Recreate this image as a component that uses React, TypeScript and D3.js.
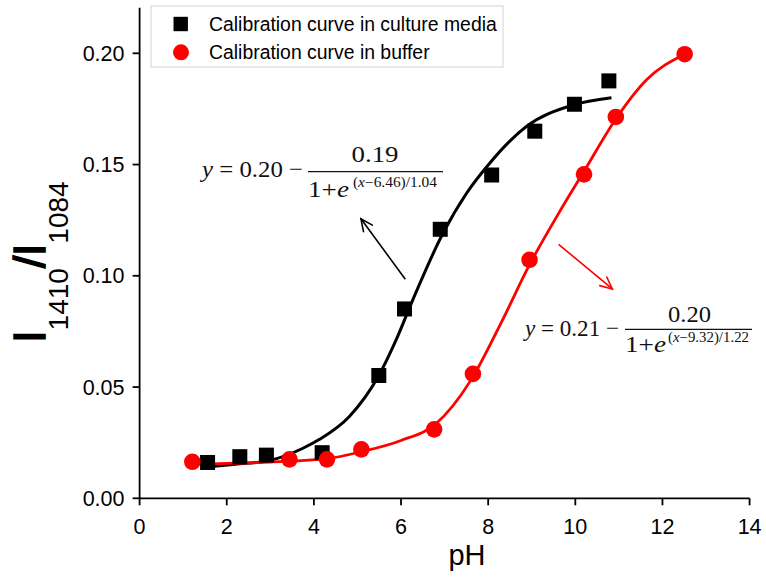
import React from "react";
import * as d3 from "d3";

// ---- data ----
const mediaPH = [1.56, 2.3, 2.91, 4.19, 5.49, 6.08, 6.9, 8.08, 9.07, 9.98, 10.77];
const mediaRatio = [0.0161, 0.0187, 0.0194, 0.0205, 0.0552, 0.0851, 0.1209, 0.1453, 0.165, 0.1771, 0.1876];

const bufferPH = [1.21, 3.44, 4.3, 5.09, 6.76, 7.65, 8.95, 10.2, 10.93, 12.51];
const bufferRatio = [0.0164, 0.0175, 0.0175, 0.022, 0.031, 0.0559, 0.1072, 0.1456, 0.1714, 0.1996];

// fitted curves
const mediaFitPH = [1.42, 2.2, 2.98, 3.75, 4.13, 4.82, 5.49, 5.89, 6.27, 6.96, 7.5, 8.03, 8.87, 9.94, 10.83];
const mediaFitRatio = [0.0138, 0.0153, 0.017, 0.0225, 0.0265, 0.0369, 0.0552, 0.0713, 0.0892, 0.119, 0.137, 0.1505, 0.167, 0.1767, 0.18];

const bufferFitPH = [1.21, 3.0, 4.3, 5.1, 6.0, 6.8, 7.6, 8.3, 8.95, 9.6, 10.2, 10.93, 11.63, 12.51];
const bufferFitRatio = [0.0153, 0.0163, 0.0178, 0.021, 0.026, 0.0335, 0.053, 0.079, 0.105, 0.1275, 0.147, 0.1705, 0.188, 0.1996];

const xTicks = [0, 2, 4, 6, 8, 10, 12, 14];
const yTicks = [0, 0.05, 0.1, 0.15, 0.2];
const yTickLabels = ["0.00", "0.05", "0.10", "0.15", "0.20"];

const legendLabels = ["Calibration curve in culture media", "Calibration curve in buffer"];

// annotation arrows (data coords: from -> to)
const blackArrow = [[6.09, 0.0987], [5.08, 0.1256]];
const redArrow = [[9.63, 0.1139], [10.85, 0.0941]];

const SANS = "'Liberation Sans', Arial, sans-serif";
const SERIF = "'Liberation Serif', 'Times New Roman', serif";

function Arrow({ pts, color, xs, ys }) {
  const [x1, y1] = [xs(pts[0][0]), ys(pts[0][1])];
  const [x2, y2] = [xs(pts[1][0]), ys(pts[1][1])];
  const ang = Math.atan2(y2 - y1, x2 - x1);
  const L = 13;
  const a = (25 * Math.PI) / 180;
  const h1 = [x2 - L * Math.cos(ang - a), y2 - L * Math.sin(ang - a)];
  const h2 = [x2 - L * Math.cos(ang + a), y2 - L * Math.sin(ang + a)];
  return (
    <g stroke={color} strokeWidth={1.6} fill="none" strokeLinecap="round">
      <line x1={x1} y1={y1} x2={x2} y2={y2} />
      <polyline points={`${h1[0]},${h1[1]} ${x2},${y2} ${h2[0]},${h2[1]}`} />
    </g>
  );
}

function Equation({ x, baseline, mainW, constant, numer, numerX, numerW, barX1, barX2, barY, numBase, denW, denBase, supX, supW, supBase, sup }) {
  return (
    <g fill="#111" fontFamily={SERIF}>
      <text x={x} y={baseline} fontSize={24} textLength={mainW} lengthAdjust="spacingAndGlyphs">
        <tspan fontStyle="italic">y</tspan>
        {` = ${constant} \u2212`}
      </text>
      <text x={numerX} y={numBase} fontSize={24} textLength={numerW} lengthAdjust="spacingAndGlyphs">
        {numer}
      </text>
      <line x1={barX1} x2={barX2} y1={barY} y2={barY} stroke="#111" strokeWidth={1.2} />
      <text x={barX1} y={denBase} fontSize={24} textLength={denW} lengthAdjust="spacingAndGlyphs">
        {"1+"}
        <tspan fontStyle="italic">e</tspan>
      </text>
      <text x={supX} y={supBase} fontSize={14} textLength={supW} lengthAdjust="spacingAndGlyphs">
        {"("}
        <tspan fontStyle="italic">x</tspan>
        {`\u2212${sup}`}
      </text>
    </g>
  );
}

export default function App() {
  const W = 766;
  const H = 581;
  const xs = d3.scaleLinear().domain([0, 14]).range([139.6, 749.6]);
  const ys = d3.scaleLinear().domain([0, 0.22]).range([498.3, 8.8]);

  const line = d3
    .line<[number, number]>()
    .x((d) => xs(d[0]))
    .y((d) => ys(d[1]))
    .curve(d3.curveMonotoneX);

  const mediaFit = mediaFitPH.map((p, i) => [p, mediaFitRatio[i]] as [number, number]);
  const bufferFit = bufferFitPH.map((p, i) => [p, bufferFitRatio[i]] as [number, number]);

  const sq = 15;
  const r = 8.3;
  const x0 = xs(0);
  const y0 = ys(0);

  return (
    <svg width={W} height={H} style={{ position: "absolute", left: 0, top: 0, background: "#fff" }}>
      <rect x={0} y={0} width={W} height={H} fill="#fff" />

      {/* axes */}
      <g stroke="#000" strokeWidth={1.8}>
        <line x1={x0} x2={x0} y1={ys(0.22) - 1} y2={y0} />
        <line x1={x0} x2={xs(14)} y1={y0} y2={y0} />
        {xTicks.map((t) => (
          <line key={"xt" + t} x1={xs(t)} x2={xs(t)} y1={y0} y2={y0 + 7} />
        ))}
        {yTicks.map((t) => (
          <line key={"yt" + t} x1={x0 - 7} x2={x0} y1={ys(t)} y2={ys(t)} />
        ))}
      </g>
      <g fontFamily={SANS} fontSize={21.5} fill="#000">
        {xTicks.map((t) => (
          <text key={"xl" + t} x={xs(t)} y={534} textAnchor="middle">
            {t}
          </text>
        ))}
        {yTicks.map((t, i) => (
          <text key={"yl" + t} x={124.5} y={ys(t) + 7.6} textAnchor="end">
            {yTickLabels[i]}
          </text>
        ))}
      </g>

      {/* axis titles */}
      <text x={467} y={565} fontFamily={SANS} fontSize={29} textAnchor="middle" fill="#000">
        pH
      </text>
      <text transform="rotate(-90)" x={-262} y={45} fontFamily={SANS} textAnchor="middle" fill="#000">
        <tspan fontSize={44} stroke="#000" strokeWidth={1.6}>I</tspan>
        <tspan fontSize={28} dy={23}>1410</tspan>
        <tspan fontSize={44} dy={-23} stroke="#000" strokeWidth={1.6}>/I</tspan>
        <tspan fontSize={28} dy={23}>1084</tspan>
      </text>

      {/* fitted curves */}
      <path d={line(mediaFit) || ""} fill="none" stroke="#000" strokeWidth={3} />
      <path d={line(bufferFit) || ""} fill="none" stroke="#ff0000" strokeWidth={2.8} />

      {/* data points */}
      {mediaPH.map((p, i) => (
        <rect key={"m" + i} x={xs(p) - sq / 2} y={ys(mediaRatio[i]) - sq / 2} width={sq} height={sq} fill="#000" />
      ))}
      {bufferPH.map((p, i) => (
        <circle key={"b" + i} cx={xs(p)} cy={ys(bufferRatio[i])} r={r} fill="#ff0000" />
      ))}

      {/* annotations */}
      <Arrow pts={blackArrow} color="#000" xs={xs} ys={ys} />
      <Arrow pts={redArrow} color="#ff0000" xs={xs} ys={ys} />

      <Equation
        x={202}
        baseline={177}
        mainW={101}
        constant="0.20"
        numer="0.19"
        numerX={351.5}
        numerW={47}
        numBase={162}
        barX1={308}
        barX2={443}
        barY={171.7}
        denW={41}
        denBase={197}
        supX={353}
        supW={84}
        supBase={187}
        sup="6.46)/1.04"
      />
      <Equation
        x={525}
        baseline={336}
        mainW={94}
        constant="0.21"
        numer="0.20"
        numerX={668}
        numerW={43}
        numBase={322}
        barX1={625}
        barX2={752}
        barY={329.4}
        denW={41}
        denBase={352}
        supX={668}
        supW={81}
        supBase={342}
        sup="9.32)/1.22"
      />

      {/* legend */}
      <g>
        <rect x={151} y={6} width={352} height={61} fill="#fff" stroke="#d4d4d4" strokeWidth={1} />
        <rect x={180.7 - 7.2} y={24 - 7.2} width={14.4} height={14.4} fill="#000" />
        <circle cx={181} cy={52.3} r={8} fill="#ff0000" />
        <text x={209} y={31} fontFamily={SANS} fontSize={19.4} fill="#000">
          {legendLabels[0]}
        </text>
        <text x={209} y={59} fontFamily={SANS} fontSize={19.4} fill="#000">
          {legendLabels[1]}
        </text>
      </g>
    </svg>
  );
}
